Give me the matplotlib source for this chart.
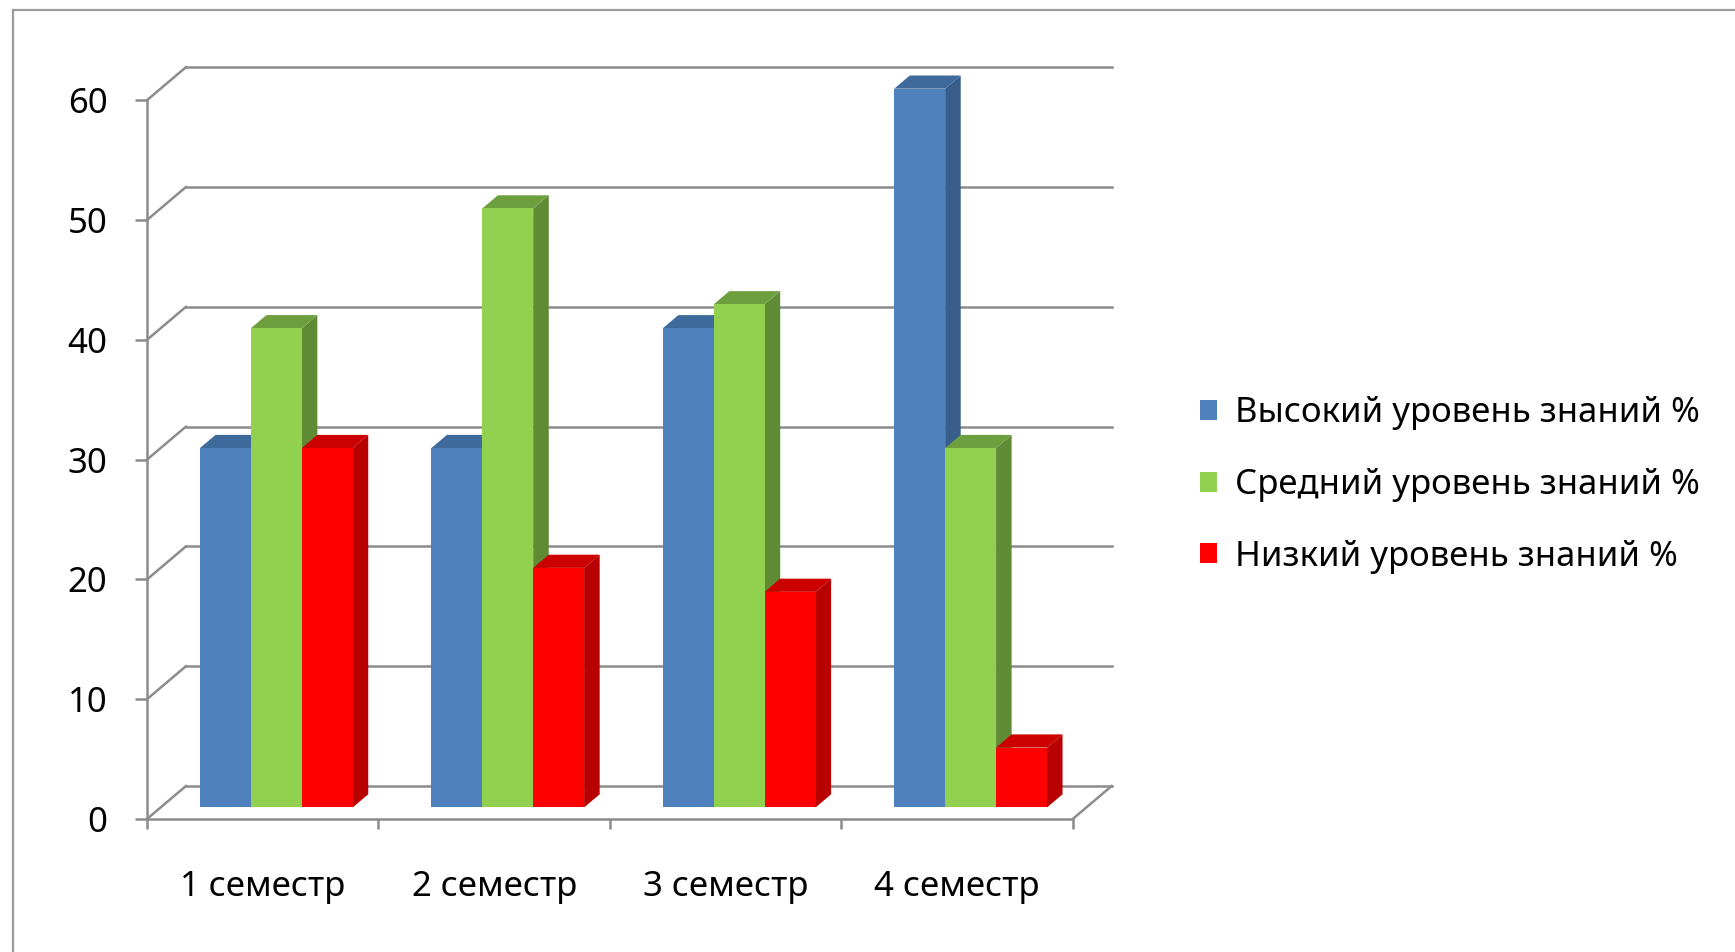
import matplotlib
matplotlib.use('Agg')
import matplotlib.pyplot as plt
from matplotlib.patches import Polygon, Patch, Rectangle

plt.rcParams['font.family'] = ['Noto Sans', 'DejaVu Sans']

semesters = ['1 семестр', '2 семестр', '3 семестр', '4 семестр']
high = [30, 30, 40, 60]
mid = [40, 50, 42, 30]
low = [30, 20, 18, 5]
series_names = ['Высокий уровень знаний %', 'Средний уровень знаний %', 'Низкий уровень знаний %']
yticks = [0, 10, 20, 30, 40, 50, 60]

# front, side, top colours for each series
colors = [('#4F81BD', '#395E8C', '#3F6A9C'),
          ('#92D050', '#5E8B34', '#6E9F3E'),
          ('#FF0000', '#B80000', '#CC0000')]

grid_c = '#8C8C8C'
depth_x, depth_y = 0.168, 2.75   # back wall offset in data units
f0, f1 = 0.35, 0.75              # bar depth range (fraction of floor depth)
bar_w = 0.22
fs = 25

fig = plt.figure(figsize=(17.35, 9.52), dpi=100)
fig.patches.append(Rectangle((0.0075, -0.05), 1.1, 0.99 + 0.05, transform=fig.transFigure,
                             fill=False, ec='#9A9A9A', lw=1.6))
ax = fig.add_axes([147 / 1735, 1 - 819 / 952, 972 / 1735, 63.5 * 11.98 / 952])
ax.set_xlim(0, 4.2)
ax.set_ylim(0, 63.5)

# back wall gridlines + floor
for v in yticks:
    ax.plot([0, depth_x], [v, v + depth_y], color=grid_c, lw=1.8, zorder=1, clip_on=False)
    ax.plot([depth_x, 4 + depth_x], [v + depth_y, v + depth_y], color=grid_c, lw=1.8, zorder=1, clip_on=False)
ax.plot([4, 4 + depth_x], [0, depth_y], color=grid_c, lw=1.8, zorder=1, clip_on=False)

# 3d-looking bars
z = 3
for i in range(len(semesters)):
    for s, vals in enumerate([high, mid, low]):
        v = vals[i]
        x0 = i + 0.5 - 1.5 * bar_w + s * bar_w + f0 * depth_x
        y0 = f0 * depth_y
        dx = (f1 - f0) * depth_x
        dy = (f1 - f0) * depth_y
        front, side, top = colors[s]
        ax.add_patch(Polygon([(x0 + bar_w, y0), (x0 + bar_w + dx, y0 + dy),
                              (x0 + bar_w + dx, v + y0 + dy), (x0 + bar_w, v + y0)],
                             closed=True, fc=side, ec='none', zorder=z))
        ax.add_patch(Polygon([(x0, v + y0), (x0 + dx, v + y0 + dy),
                              (x0 + bar_w + dx, v + y0 + dy), (x0 + bar_w, v + y0)],
                             closed=True, fc=top, ec='none', zorder=z))
        ax.add_patch(Rectangle((x0, y0), bar_w, v, fc=front, ec='none', zorder=z + 0.5))
        z += 1

for sp in ['top', 'right']:
    ax.spines[sp].set_visible(False)
ax.spines['left'].set_bounds(0, 60)
ax.spines['bottom'].set_bounds(0, 4)
for sp in ['left', 'bottom']:
    ax.spines[sp].set_color(grid_c)
    ax.spines[sp].set_linewidth(1.8)

ax.set_yticks(yticks)
ax.tick_params(axis='y', length=8.5, width=1.8, color=grid_c, pad=20, labelsize=fs)
ax.set_xticks([0, 1, 2, 3, 4])
ax.set_xticklabels([])
ax.set_xticks([0.5, 1.5, 2.5, 3.5], minor=True)
ax.set_xticklabels(semesters, minor=True)
ax.tick_params(axis='x', which='major', length=7, width=1.8, color=grid_c)
ax.tick_params(axis='x', which='minor', length=0, pad=37, labelsize=fs)

handles = [Patch(fc=c[0], ec='none') for c in colors]
fig.legend(handles, series_names, loc='center left', bbox_to_anchor=(1200 / 1735, 1 - 485 / 952),
           frameon=False, fontsize=fs, handlelength=0.5, handleheight=0.5,
           handletextpad=0.5, labelspacing=1.08, borderpad=0, borderaxespad=0)

fig.savefig('out.png', dpi=100)
